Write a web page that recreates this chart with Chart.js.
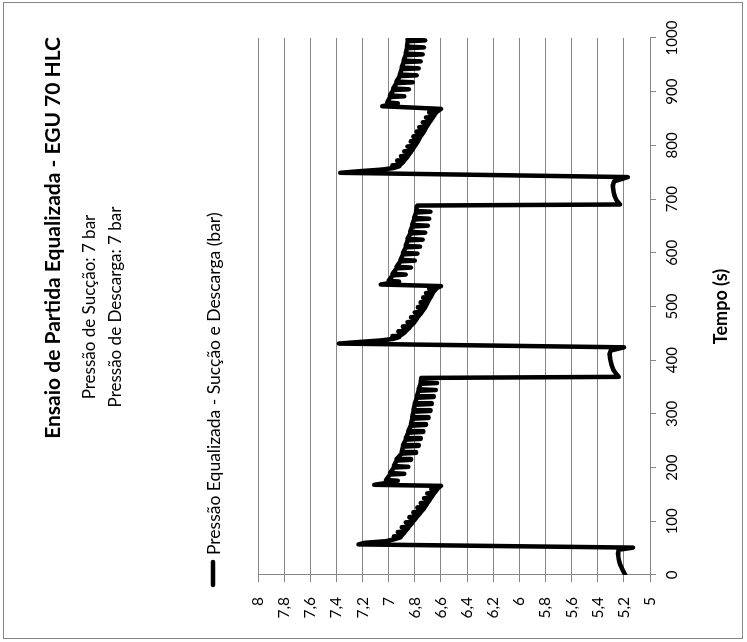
<!DOCTYPE html>
<html>
<head>
<meta charset="utf-8">
<title>Ensaio de Partida Equalizada - EGU 70 HLC</title>
<script src="https://cdn.jsdelivr.net/npm/chart.js@4.4.1/dist/chart.umd.min.js"></script>
<style>
  html, body { margin: 0; padding: 0; background: #fff; overflow: hidden; }
  /* o grafico original foi girado 90 graus no sentido anti-horario */
  #wrap {
    position: absolute; left: 0; top: 0;
    width: 642px; height: 747px;
    transform-origin: 0 0;
    transform: translate(0, 642px) rotate(-90deg);
  }
</style>
</head>
<body>
<div id="wrap"><canvas id="ensaio-chart" width="642" height="747"></canvas></div>
<script>
const titulo = 'Ensaio de Partida Equalizada - EGU 70 HLC';
const subtitulos = ['Pressão de Sucção: 7 bar', 'Pressão de Descarga: 7 bar'];
const legenda = 'Pressão Equalizada - Sucção e Descarga (bar)';
const tituloTempo = 'Tempo (s)';

// ciclo 1: 0 a 367 s
const tempo1 = [
  0, 10, 20, 30, 40, 47, 51,
  57, 60, 63, 67,
  70, 71, 72, 79, 80, 81, 88, 89, 90, 97, 98, 99, 106, 107, 108, 115, 116, 117,
  124, 125, 126, 133, 134, 135, 142, 143, 144, 151, 152, 153, 159, 160, 161, 166,
  168, 171,
  174, 175.5, 177, 187, 188.5, 190, 200, 201.5, 203, 213, 214.5, 216, 226, 227.5, 229,
  239, 240.5, 242, 252, 253.5, 255, 265, 266.5, 268, 278, 279.5, 281, 291, 292.5, 294,
  304, 305.5, 307, 317, 318.5, 320, 330, 331.5, 333, 343, 344.5, 346, 356, 357.5, 359, 367
];
const pressao1 = [
  5.19, 5.21, 5.23, 5.24, 5.245, 5.24, 5.13,
  7.23, 7.18, 7.02, 6.95,
  6.91, 6.96, 6.905, 6.88, 6.93, 6.875, 6.85, 6.90, 6.845, 6.82, 6.87, 6.815, 6.79, 6.84, 6.785, 6.76, 6.81, 6.755,
  6.73, 6.78, 6.725, 6.705, 6.755, 6.70, 6.68, 6.73, 6.675, 6.655, 6.705, 6.65, 6.63, 6.675, 6.625, 6.60,
  7.11, 7.03,
  7.02, 6.93, 7.02, 6.99, 6.88, 6.99, 6.96, 6.85, 6.96, 6.94, 6.83, 6.94, 6.90, 6.79, 6.90,
  6.89, 6.77, 6.89, 6.87, 6.755, 6.87, 6.85, 6.735, 6.85, 6.83, 6.715, 6.83, 6.82, 6.695, 6.82,
  6.81, 6.68, 6.81, 6.80, 6.67, 6.80, 6.785, 6.655, 6.785, 6.77, 6.64, 6.77, 6.755, 6.63, 6.755, 6.75
];

// ciclo 2: 369 a 688 s
const tempo2 = [
  369, 375, 382, 392, 402, 412, 418, 424,
  431, 434, 437, 440,
  443, 444, 445, 452, 453, 454, 461, 462, 463, 470, 471, 472, 479, 480, 481, 488, 489, 490,
  497, 498, 499, 506, 507, 508, 515, 516, 517, 524, 525, 526, 532, 533, 534, 538,
  541, 543,
  545, 546.5, 548, 558, 559.5, 561, 571, 572.5, 574, 584, 585.5, 587, 597, 598.5, 600,
  610, 611.5, 613, 623, 624.5, 626, 636, 637.5, 639, 649, 650.5, 652, 662, 663.5, 665,
  675, 676.5, 678, 686, 688
];
const pressao2 = [
  5.24, 5.26, 5.28, 5.295, 5.305, 5.31, 5.30, 5.20,
  7.38, 7.22, 7.05, 6.96,
  6.92, 6.97, 6.915, 6.875, 6.925, 6.87, 6.84, 6.89, 6.835, 6.805, 6.855, 6.80, 6.78, 6.83, 6.775, 6.75, 6.80, 6.745,
  6.725, 6.775, 6.72, 6.705, 6.755, 6.70, 6.685, 6.735, 6.68, 6.665, 6.715, 6.66, 6.64, 6.69, 6.635, 6.60,
  7.06, 7.01,
  7.00, 6.92, 7.00, 6.97, 6.87, 6.97, 6.94, 6.83, 6.94, 6.91, 6.80, 6.91, 6.89, 6.78, 6.89,
  6.87, 6.76, 6.87, 6.855, 6.74, 6.855, 6.835, 6.72, 6.835, 6.82, 6.70, 6.82, 6.805, 6.69, 6.805,
  6.79, 6.68, 6.79, 6.785, 6.78
];

// ciclo 3: 690 a 1000 s
const tempo3 = [
  690, 697, 705, 715, 725, 733, 741,
  749, 752, 755, 758,
  761, 762, 763, 770, 771, 772, 779, 780, 781, 788, 789, 790, 797, 798, 799, 806, 807, 808,
  815, 816, 817, 824, 825, 826, 833, 834, 835, 842, 843, 844, 851, 852, 853, 860, 861, 862, 868,
  873, 875,
  877, 878.5, 880, 890, 891.5, 893, 903, 904.5, 906, 916, 917.5, 919, 929, 930.5, 932,
  942, 943.5, 945, 955, 956.5, 958, 968, 969.5, 971, 981, 982.5, 984, 994, 995.5, 997, 1000
];
const pressao3 = [
  5.23, 5.255, 5.27, 5.28, 5.285, 5.275, 5.17,
  7.37, 7.22, 7.05, 6.96,
  6.92, 6.97, 6.915, 6.885, 6.935, 6.88, 6.855, 6.905, 6.85, 6.83, 6.88, 6.825, 6.805, 6.855, 6.80, 6.78, 6.83, 6.775,
  6.76, 6.81, 6.755, 6.735, 6.785, 6.73, 6.715, 6.765, 6.71, 6.69, 6.74, 6.685, 6.665, 6.715, 6.66, 6.64, 6.69, 6.635, 6.60,
  7.05, 7.01,
  7.01, 6.93, 7.01, 6.99, 6.88, 6.99, 6.965, 6.845, 6.965, 6.94, 6.815, 6.94, 6.915, 6.785, 6.915,
  6.90, 6.77, 6.90, 6.885, 6.755, 6.885, 6.87, 6.74, 6.87, 6.86, 6.73, 6.86, 6.855, 6.72, 6.855, 6.85
];

const fonte = 'Lato, "Open Sans", sans-serif';
const cinza = '#868686';

const juntar = (tempos, pressoes) => tempos.map((t, i) => ({ x: t, y: pressoes[i] }));
const pontos = [].concat(
  juntar(tempo1, pressao1),
  juntar(tempo2, pressao2),
  juntar(tempo3, pressao3)
);

// moldura, titulos e legenda desenhados a mao
const moldura = {
  id: 'moldura',
  beforeDraw(chart) {
    const c = chart.ctx;
    c.save();
    c.fillStyle = '#fff';
    c.fillRect(0, 0, chart.width, chart.height);
    c.strokeStyle = cinza;
    c.lineWidth = 1;
    c.strokeRect(3.5, 3.5, 636, 739);
    c.restore();
  },
  afterDraw(chart) {
    const c = chart.ctx;
    c.save();
    c.fillStyle = '#000';
    c.textBaseline = 'alphabetic';
    c.textAlign = 'right';
    c.font = 'bold 21px ' + fonte;
    c.fillText(titulo, 605, 60);
    c.textAlign = 'center';
    c.font = '17px ' + fonte;
    c.fillText(subtitulos[0], 335, 95);
    c.fillText(subtitulos[1], 335, 121);

    c.strokeStyle = '#000';
    c.lineWidth = 4.5;
    c.lineCap = 'round';
    c.beginPath();
    c.moveTo(57, 213);
    c.lineTo(80, 213);
    c.stroke();
    c.textAlign = 'left';
    c.textBaseline = 'middle';
    c.font = '17.5px ' + fonte;
    c.fillText(legenda, 87, 214);
    c.restore();
  }
};

const ctx = document.getElementById('ensaio-chart').getContext('2d');
new Chart(ctx, {
  type: 'line',
  data: {
    datasets: [{
      label: legenda,
      data: pontos,
      borderColor: '#000',
      backgroundColor: '#000',
      borderWidth: 4.5,
      borderJoinStyle: 'round',
      borderCapStyle: 'round',
      pointRadius: 0,
      tension: 0,
      fill: false
    }]
  },
  options: {
    responsive: false,
    animation: false,
    layout: { padding: { left: 10, right: 38, top: 258, bottom: 0 } },
    plugins: {
      legend: { display: false },
      tooltip: { enabled: false }
    },
    scales: {
      x: {
        type: 'linear',
        min: 0,
        max: 1000,
        ticks: {
          stepSize: 100,
          maxRotation: 0,
          padding: 7,
          color: '#000',
          font: { family: fonte, size: 15 },
          callback: v => String(v)
        },
        grid: { drawOnChartArea: false, color: cinza, tickLength: 6 },
        border: { color: cinza },
        title: {
          display: true,
          text: tituloTempo,
          color: '#000',
          font: { family: fonte, size: 18, weight: 'bold' },
          padding: { top: 0, bottom: 15 }
        },
        afterFit(scale) { scale.height = 97; }
      },
      y: {
        min: 5,
        max: 8,
        ticks: {
          stepSize: 0.2,
          padding: 15,
          color: '#000',
          font: { family: fonte, size: 15.5 },
          callback: v => String(Math.round(v * 10) / 10).replace('.', ',')
        },
        grid: { color: cinza, tickLength: 7 },
        border: { color: cinza },
        afterFit(scale) { scale.width = 57; }
      }
    }
  },
  plugins: [moldura]
});
</script>
</body>
</html>
